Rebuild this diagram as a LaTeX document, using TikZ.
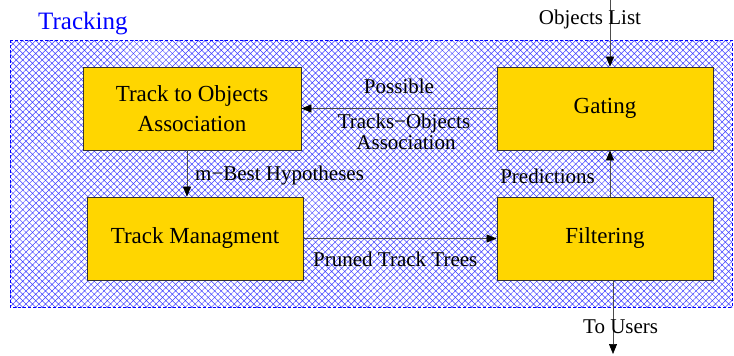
\documentclass[tikz,border=0pt]{standalone}
\usepackage{fontspec}
\setmainfont{Liberation Serif}
\usetikzlibrary{arrows.meta,patterns.meta,calc}
\tikzset{
  box/.style={draw=black!80, line width=0.8pt, fill=boxgold, rectangle, inner sep=0pt,
    minimum width=216pt, minimum height=83pt, align=center,
    font=\fontsize{23}{30.7}\selectfont},
  lbl/.style={inner sep=0pt, font=\fontsize{21}{21}\selectfont},
  arr/.style={line width=0.7pt, draw=black!70, -{Triangle[length=10pt,width=8pt,color=black]}}
}
\definecolor{boxgold}{RGB}{255,214,0}
\begin{document}
\begin{tikzpicture}[x=1pt,y=-1pt]
\useasboundingbox[fill=white] (0,0) rectangle (734,356);
% tracking region
\fill[white] (10,40) rectangle (732,307);
\fill[pattern={Hatch[angle=45,distance=4.6pt,line width=0.5pt]}, pattern color=blue!75] (10,40) rectangle (732,307);
\draw[blue, line width=0.6pt, dash pattern=on 3pt off 2pt] (10,40) rectangle (732,307);
\node[inner sep=0pt, anchor=base west, text=blue, font=\fontsize{25}{25}\selectfont] (title) at (38,30) {Tracking};

% boxes
\node[box, minimum width=218pt] (assoc) at (192,108.5) {Track to Objects\\Association};
\node[box] (tm) at (195,238.5) {Track Managment};
\node[box] (gat) at (605,108.5) {Gating};
\node[box] (filt) at (605,238.5) {Filtering};

% connectors
\coordinate (ol) at (610,0);
\draw[arr] (ol) -- (ol |- gat.north);
\draw[arr] (gat.west) -- (assoc.east);
\draw[arr] ([xshift=-5pt]assoc.south) -- ([xshift=-5pt]assoc.south |- tm.north);
\draw[arr] (tm.east) -- (filt.west);
\draw[arr] ([xshift=5pt]filt.north) -- ([xshift=5pt]gat.south);
\coordinate (tu) at (613,354);
\draw[arr] (filt.south -| tu) -- (tu);

% labels
\node[lbl, anchor=base] (l1) at (590,24) {Objects List};
\node[lbl, anchor=base] (l2) at (399,93) {Possible};
\node[lbl, anchor=base] (l3) at (404,128) {Tracks−Objects};
\node[lbl, anchor=base] (l4) at (406,149) {Association};
\node[lbl, anchor=base west] (l5) at (195,180) {m−Best Hypotheses};
\node[lbl, anchor=base east] (l6) at (595,183) {Predictions};
\node[lbl, anchor=base west] (l7) at (313,266) {Pruned Track Trees};
\node[lbl, anchor=base west] (l8) at (583,333) {To Users};
\end{tikzpicture}
\end{document}
